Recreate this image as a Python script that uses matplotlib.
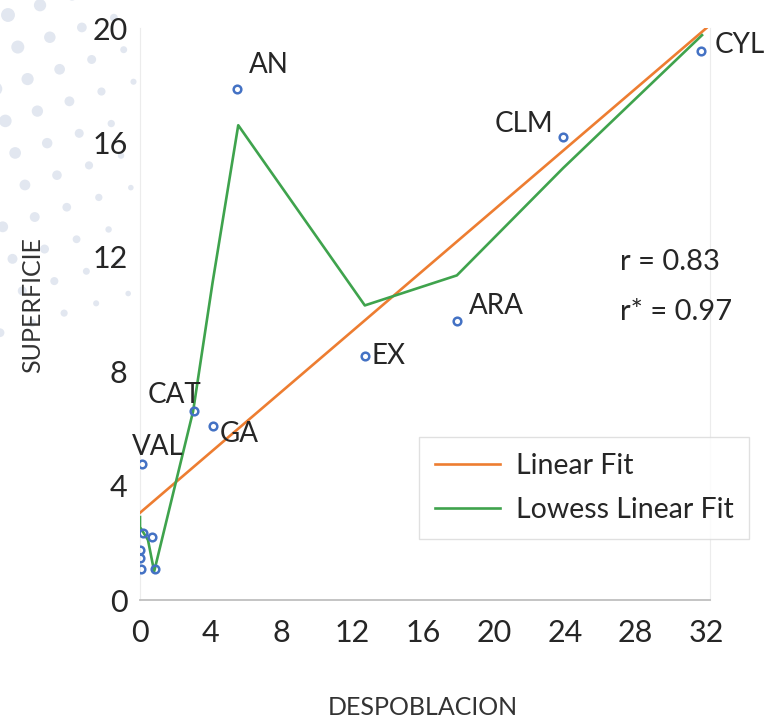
import numpy as np
import matplotlib
matplotlib.use('Agg')
import matplotlib.pyplot as plt

plt.rcParams['font.family'] = ['Lato', 'DejaVu Sans']

# data
regions = ['CYL', 'CLM', 'AN', 'ARA', 'EX', 'CAT', 'GA', 'VAL', '', '', '', '', '', '']
despoblacion = [31.7, 23.9, 5.5, 17.9, 12.7, 3.05, 4.1, 0.1, 0.15, 0.65, 0.0, 0.0, 0.05, 0.85]
superficie = [19.2, 16.2, 17.87, 9.76, 8.53, 6.6, 6.08, 4.76, 2.35, 2.2, 1.75, 1.47, 1.1, 1.08]

linear_x = [0, 32]
linear_y = [3.05, 20.0]

lowess_x = [0.0, 0.0, 0.45, 0.8, 3.0, 4.1, 5.55, 12.7, 17.9, 23.9, 31.75]
lowess_y = [2.9, 2.55, 2.1, 1.0, 6.6, 11.1, 16.6, 10.3, 11.35, 15.1, 19.75]

r_text = ['r = 0.83', 'r* = 0.97']

# label offsets (points) and alignment
label_pos = {
    'CYL': (10, 4, 'left'),
    'CLM': (-7, 9, 'right'),
    'AN': (8, 17, 'left'),
    'ARA': (9, 11, 'left'),
    'EX': (5, 0, 'left'),
    'CAT': (5, 12, 'right'),
    'GA': (5, -6, 'left'),
    'VAL': (-7, 12, 'left'),
}

txt = '#262626'
fig = plt.figure(figsize=(7.7, 7.24), dpi=100)

# faint decorative dots top-left
bg = fig.add_axes([0, 0, 1, 1], zorder=-5)
bg.set_xlim(0, 770)
bg.set_ylim(724, 0)
bg.axis('off')
ang = np.deg2rad(-17)
u = np.array([np.cos(ang), np.sin(ang)]) * 33.5
v = np.array([-np.sin(ang), np.cos(ang)]) * 33.5
dx, dy, ds = [], [], []
for i in range(-12, 12):
    for j in range(-12, 12):
        p = np.array([8, 15]) + i * u + j * v
        if p[0] < -8 or p[1] < -8 or p[0] > 135:
            continue
        d = np.hypot(p[0] + 40, p[1] + 40)
        if d > 400:
            continue
        dx.append(p[0])
        dy.append(p[1])
        ds.append(max(16, 120 * (1 - p[0] / 180) * (1 - d / 560)))
bg.scatter(dx, dy, s=ds, color='#e2e7f0', edgecolors='none')

ax = fig.add_axes([140 / 770, 1 - 600 / 724, 570 / 770, 572 / 724])
ax.set_xlim(0, 32.2)
ax.set_ylim(0, 20)
ax.patch.set_alpha(0)

ax.plot(linear_x, linear_y, color='#ed7d31', lw=1.9, label='Linear Fit', zorder=3)
ax.plot(lowess_x, lowess_y, color='#3fa34d', lw=1.9, label='Lowess Linear Fit', zorder=3)
ax.plot(despoblacion, superficie, 'o', ms=5.5, mfc='none', mec='#4472c4', mew=1.8, zorder=4)

for name, x, y in zip(regions, despoblacion, superficie):
    if name in label_pos:
        ox, oy, ha = label_pos[name]
        ax.annotate(name, (x, y), xytext=(ox, oy), textcoords='offset points',
                    ha=ha, va='center', fontsize=20, color=txt)

ax.text(0.842, 0.591, r_text[0], transform=ax.transAxes, fontsize=21, color=txt, va='center')
ax.text(0.842, 0.503, r_text[1], transform=ax.transAxes, fontsize=21, color=txt, va='center')

ax.set_xticks(np.arange(0, 33, 4))
ax.set_yticks(np.arange(0, 21, 4))
ax.tick_params(length=0, labelsize=22, colors=txt)
ax.tick_params(axis='x', pad=14)
ax.tick_params(axis='y', pad=9)

ax.spines['top'].set_visible(False)
ax.spines['left'].set_color('#ececec')
ax.spines['right'].set_color('#ececec')
ax.spines['bottom'].set_color('#bfbfbf')
ax.spines['bottom'].set_linewidth(1.3)

ax.set_xlabel('DESPOBLACION', fontsize=18, color='#333333')
ax.set_ylabel('SUPERFICIE', fontsize=18, color='#333333')
ax.xaxis.set_label_coords(0.496, -0.168)
ax.yaxis.set_label_coords(-0.168, 0.516)

leg = ax.legend(loc='upper left', bbox_to_anchor=(419 / 770, 1 - 437 / 724),
                bbox_transform=fig.transFigure, fontsize=20.5, frameon=True,
                fancybox=False, borderaxespad=0, handlelength=2.3,
                handletextpad=0.55, labelspacing=0.65, borderpad=0.55)
leg.get_frame().set_edgecolor('#d9d9d9')
leg.get_frame().set_linewidth(1.0)
for t in leg.get_texts():
    t.set_color(txt)

fig.savefig('out.png', dpi=100)
